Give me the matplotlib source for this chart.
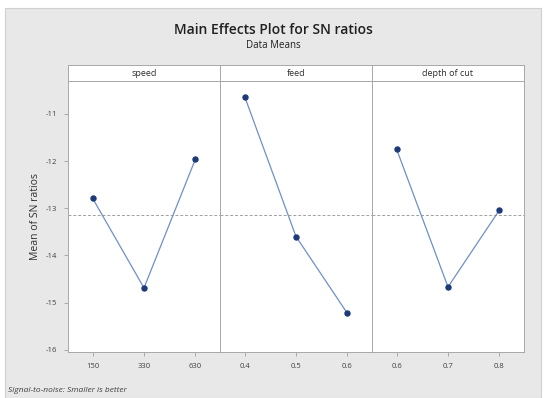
import matplotlib
matplotlib.use("Agg")
import matplotlib.pyplot as plt
from matplotlib.patches import Rectangle

plt.rcParams['font.family'] = ['Open Sans', 'DejaVu Sans']

# factors and their levels
factors = ['speed', 'feed', 'depth of cut']
levels = [['150', '330', '630'], ['0.4', '0.5', '0.6'], ['0.6', '0.7', '0.8']]

# mean SN ratio for each level
sn_speed = [-12.79, -14.69, -11.96]
sn_feed = [-10.63, -13.60, -15.23]
sn_depth = [-11.75, -14.67, -13.04]
sn_means = [sn_speed, sn_feed, sn_depth]

grand_mean = -13.15
yticks = [-11, -12, -13, -14, -15, -16]

fig = plt.figure(figsize=(5.46, 3.98), dpi=100, facecolor='white')
# gray frame like the minitab window
fig.patches.append(Rectangle((5 / 546, 0), 1 - 10 / 546, 1 - 8 / 398,
                             transform=fig.transFigure, facecolor='#e8e8e8',
                             edgecolor='#d0d0d0', lw=0.8, zorder=-10))

left, right = 68 / 546, 524 / 546
bottom, top = 1 - 352 / 398, 1 - 81 / 398
strip_h = 16 / 398
w = (right - left) / 3

for i in range(3):
    ax = fig.add_axes([left + i * w, bottom, w, top - bottom])
    x = range(len(levels[i]))
    ax.axhline(grand_mean, color='#a0a0a0', lw=0.7, ls=(0, (3, 2)), zorder=1)
    ax.plot(x, sn_means[i], color='#6f8fc8', lw=0.9, zorder=2)
    ax.plot(x, sn_means[i], 'o', color='#1d3a78', ms=3.6, zorder=3)
    ax.set_xlim(-0.48, 2.48)
    ax.set_ylim(-16.05, -10.3)
    ax.set_xticks(list(x))
    ax.set_xticklabels(levels[i], fontsize=5.5, color='#404040')
    ax.set_yticks(yticks)
    if i == 0:
        ax.set_yticklabels([str(t) for t in yticks], fontsize=5.5, color='#404040')
    else:
        ax.tick_params(axis='y', left=False, labelleft=False)
    ax.tick_params(axis='both', length=3, width=0.5, color='#909090', pad=5)
    for s in ax.spines.values():
        s.set_color('#a8a8a8')
        s.set_linewidth(0.7)
    # strip on top
    sax = fig.add_axes([left + i * w, top, w, strip_h])
    sax.set_xticks([])
    sax.set_yticks([])
    for s in sax.spines.values():
        s.set_color('#a8a8a8')
        s.set_linewidth(0.7)
    sax.text(0.5, 0.5, factors[i], ha='center', va='center', fontsize=6.5,
             color='#303030', transform=sax.transAxes)

fig.text(0.5, 1 - 30 / 398, 'Main Effects Plot for SN ratios', ha='center',
         va='center', fontsize=10, fontweight='semibold', color='#202020')
fig.text(0.5, 1 - 46 / 398, 'Data Means', ha='center', va='center',
         fontsize=7, color='#202020')
fig.text(35 / 546, (bottom + top) / 2, 'Mean of SN ratios', rotation=90,
         ha='center', va='center', fontsize=7.5, color='#303030')
fig.text(8 / 546, 1 - 390 / 398, 'Signal-to-noise: Smaller is better',
         ha='left', va='center', fontsize=6, style='italic', color='#404040')

fig.savefig('out.png', dpi=100, facecolor=fig.get_facecolor())
